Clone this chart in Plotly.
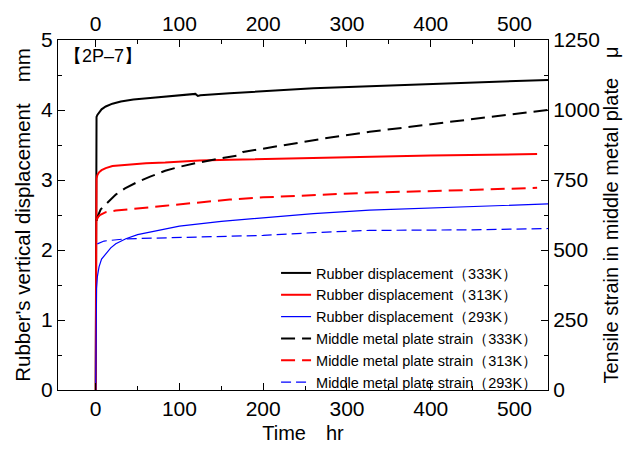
import plotly.graph_objects as go

# Rubber displacement (mm)
t_b = [0, 0.5, 1, 2, 4, 7, 12, 20, 30, 45, 65, 90, 119, 122, 125, 160, 200, 260, 327, 400, 470, 540]
d_b = [0, 3.85, 3.90, 3.93, 3.97, 4.01, 4.05, 4.09, 4.12, 4.15, 4.17, 4.20, 4.23, 4.20, 4.21, 4.24, 4.27, 4.31, 4.34, 4.37, 4.40, 4.43]
t_r = [0, 0.5, 1, 2, 4, 7, 12, 20, 36, 60, 83, 124, 160, 200, 260, 327, 400, 470, 527]
d_r = [0, 2.95, 3.02, 3.07, 3.11, 3.14, 3.17, 3.20, 3.22, 3.24, 3.25, 3.28, 3.29, 3.30, 3.32, 3.34, 3.35, 3.36, 3.37]
t_u = [0, 0.3, 1, 2, 4, 7, 12, 18, 24, 36, 50, 70, 100, 150, 200, 260, 327, 400, 470, 545]
d_u = [0, 1.0, 1.45, 1.62, 1.76, 1.87, 1.95, 2.03, 2.09, 2.16, 2.22, 2.27, 2.34, 2.41, 2.46, 2.52, 2.57, 2.60, 2.63, 2.66]

# Middle metal plate strain (micro)
ts_b = [1, 3, 6, 12, 18, 24, 35, 48, 65, 83, 100, 119, 145, 165, 170, 176, 200, 232, 280, 327, 400, 470, 540]
s_b = [605, 625, 645, 662, 682, 698, 720, 740, 762, 783, 797, 810, 825, 835, 838, 850, 862, 880, 902, 922, 950, 975, 1000]
ts_r = [1, 2, 5, 12, 24, 36, 60, 83, 124, 160, 200, 260, 327, 420, 527]
s_r = [605, 615, 625, 635, 641, 645, 652, 658, 670, 680, 688, 697, 705, 712, 722]
ts_u = [2, 10, 36, 80, 124, 200, 260, 327, 450, 545]
s_u = [522, 532, 540, 543, 545, 552, 562, 570, 572, 577]

FONT = "Liberation Sans, Arial, sans-serif"

fig = go.Figure()
fig.add_trace(go.Scatter(x=t_b, y=d_b, mode="lines", line=dict(color="black", width=2),
                         name="Rubber displacement（333K）"))
fig.add_trace(go.Scatter(x=t_r, y=d_r, mode="lines", line=dict(color="red", width=2),
                         name="Rubber displacement（313K）"))
fig.add_trace(go.Scatter(x=t_u, y=d_u, mode="lines", line=dict(color="blue", width=1.2),
                         name="Rubber displacement（293K）"))
fig.add_trace(go.Scatter(x=ts_b, y=s_b, mode="lines", xaxis="x2", yaxis="y2",
                         line=dict(color="black", width=2, dash="14px,7px"),
                         name="Middle metal plate strain（333K）"))
fig.add_trace(go.Scatter(x=ts_r, y=s_r, mode="lines", xaxis="x2", yaxis="y2",
                         line=dict(color="red", width=2, dash="14px,7px"),
                         name="Middle metal plate strain（313K）"))
fig.add_trace(go.Scatter(x=ts_u, y=s_u, mode="lines", xaxis="x2", yaxis="y2",
                         line=dict(color="blue", width=1.2, dash="10px,5px"),
                         name="Middle metal plate strain（293K）"))

xr = [-45, 540]
common = dict(showgrid=False, zeroline=False, showline=True, linecolor="black", linewidth=1,
              ticks="inside", ticklen=7, tickcolor="black", mirror=False,
              tickfont=dict(family=FONT, size=21, color="black"))
fig.update_layout(
    width=630, height=452,
    margin=dict(l=58, r=82, t=40, b=57),
    paper_bgcolor="white", plot_bgcolor="white",
    font=dict(family=FONT, color="black"),
    xaxis=dict(range=xr, tickvals=[0, 100, 200, 300, 400, 500],
               minor=dict(dtick=50, tick0=0, ticks="inside", ticklen=4, tickcolor="black"),
               title=dict(text="Time　hr", font=dict(family=FONT, size=20), standoff=6),
               anchor="y", **common),
    xaxis2=dict(range=xr, tickvals=[0, 100, 200, 300, 400, 500], overlaying="x", side="top",
                minor=dict(dtick=50, tick0=0, ticks="inside", ticklen=4, tickcolor="black"),
                anchor="y2", **common),
    yaxis=dict(range=[0, 5], tickvals=[0, 1, 2, 3, 4, 5],
               minor=dict(dtick=0.5, tick0=0, ticks="inside", ticklen=4, tickcolor="black"),
               title=dict(text="Rubber's vertical displacement　mm", font=dict(family=FONT, size=20.5), standoff=4),
               anchor="x", **common),
    yaxis2=dict(range=[0, 1250], tickvals=[0, 250, 500, 750, 1000, 1250], overlaying="y", side="right",
                minor=dict(dtick=125, tick0=0, ticks="inside", ticklen=4, tickcolor="black"),
                title=dict(text="Tensile strain in middle metal plate　μ", font=dict(family=FONT, size=20), standoff=4),
                anchor="x2", **common),
    legend=dict(x=0.445, y=0.38, xanchor="left", yanchor="top", bgcolor="rgba(0,0,0,0)",
                font=dict(family=FONT, size=14.5, color="black"), tracegroupgap=0),
    showlegend=True,
)
fig.add_annotation(text="【2P–7】", x=0.0, y=1.0, xref="paper", yref="paper",
                   xanchor="left", yanchor="top", showarrow=False, xshift=4, yshift=-4,
                   font=dict(family=FONT, size=18, color="black"))
fig.write_html("out.html")
